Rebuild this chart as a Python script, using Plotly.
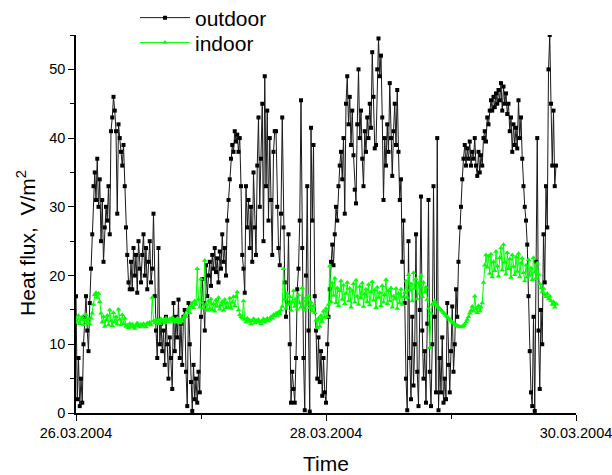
import pandas as pd
import plotly.graph_objects as go

# sampling: one reading every 0.01 day starting 26.03.2004 00:00
start_time = "2004-03-26 00:00"
step = "864s"

outdoor = [
    17, 2, 8, 1, 5, 1.5, 10, 14, 17, 12,
    9, 16, 21, 26, 33, 35, 31, 37, 30, 34,
    25, 31, 22, 27, 30, 28, 33, 26, 41, 43,
    46, 44, 41, 29, 42, 40, 38, 36, 39, 33,
    27, 23, 19, 18, 22, 18, 24, 20, 23, 17.5,
    25, 21, 19, 23, 26, 20, 24, 18, 22, 25,
    19, 21, 29, 17, 12, 8, 24, 10, 13, 9,
    12, 7, 14, 10, 5, 11, 8, 3.5, 16, 9,
    14, 11, 16.5, 8, 13, 7, 14, 15, 6, 1,
    16, 10, 4.5, 0.3, 7, 2, 5, 1.5, 6, 3,
    14, 19.5, 16, 12, 21.5, 17, 20, 22, 18.5, 23,
    21, 24, 20.5, 22.5, 19, 23.5, 21, 26, 22, 24,
    20, 28, 31, 34, 37, 39, 38, 41, 39.5, 40.5,
    38, 40, 33, 23, 21, 17.5, 33, 27, 31, 24,
    30, 22, 35, 27, 23, 36, 43, 30, 37, 45,
    25, 49, 33, 44, 28, 40, 31, 23, 38, 41,
    41, 30, 24, 21.5, 29, 43, 27, 19, 14, 16,
    26, 10, 1.5, 6, 3.5, 1.5, 8, 18, 21, 28,
    45.5, 24, 8, 0.4, 20, 33, 12, 0.2, 41.5, 28,
    39, 17, 12, 5, 11, 4.5, 9, 2.5, 8, 3,
    1.5, 10, 14, 18, 22, 24.5, 21.5, 26, 30, 28,
    33, 36, 38, 34, 40, 29, 45, 49, 42, 46,
    39, 44, 37.5, 32.5, 30.5, 42, 50, 40, 44, 37,
    33, 41, 38, 43, 40, 45, 41.5, 52.5, 46, 38.5,
    39, 50, 54.5, 49, 52, 43, 31, 40, 36, 42,
    38, 48, 40, 34.5, 41, 45, 39, 47, 38, 31,
    34, 22, 28, 16, 5, 0.4, 25, 8, 2, 14,
    4, 10, 26, 6, 1, 15, 31.5, 12, 5, 9,
    1.5, 13, 31, 6, 1, 10, 33, 14, 3, 40,
    0.4, 8, 3, 11, 1.5, 5, 2, 16, 7, 3,
    9, 15.5, 6, 10, 18, 14, 22, 27, 30, 34,
    37, 39, 36, 38.5, 37, 39.5, 36, 38, 37, 40,
    36, 34.5, 38, 35, 37.5, 36, 40, 41, 39.5, 43,
    42, 44, 45.5, 44, 46, 44.5, 46.5, 45, 47, 45.5,
    48, 44, 47.5, 45, 46.5, 43.5, 45, 41, 43, 38,
    42, 39, 41.5, 38.5, 45.5, 40, 43, 37, 33, 30,
    28, 24.5, 17, 9, 3, 1, 14, 0.3, 22, 40,
    12, 3.5, 15, 10, 26, 19, 33, 27, 50, 55,
    45, 36, 44, 33, 36,
]

indoor = [
    13.8, 13.2, 14.2, 13.0, 13.6, 14.0, 12.8, 13.5, 14.3, 13.1, 13.7, 12.9, 13.8,
    14.5, 15.8, 17.2, 17.5, 16.8, 17.4, 16.2,
    14.5, 13.2, 14.0, 12.6,
    13.5, 14.2, 12.8, 15.0, 13.4, 12.7, 14.6, 13.2, 14.0, 12.9, 15.1, 13.6, 12.8, 14.3, 13.0, 13.8, 12.6,
    12.8, 12.4, 13.0, 12.5, 12.9, 12.6, 12.3, 12.8, 13.1, 12.7,
    12.5, 12.9, 12.6, 13.0, 12.8, 12.5, 13.1, 12.9, 13.2, 12.8,
    16.8,
    13.4, 13.1, 13.6, 13.2, 13.5, 13.0, 13.7, 13.3, 13.6, 13.1,
    13.8, 13.4, 13.2, 13.7, 13.5, 13.9, 13.3, 13.6, 13.2, 13.8,
    13.4, 13.1, 13.6, 13.3,
    13.8, 14.2, 14.0, 14.8, 15.2, 14.6, 15.6, 16.0, 15.3, 16.3, 15.8,
    21.0,
    16.5, 15.4, 19.5, 16.0, 15.2,
    22.2,
    15.8, 14.9, 16.3, 15.2, 16.6, 15.0, 15.9, 14.8, 16.4, 15.5,
    16.8, 15.1, 15.7, 16.2, 14.9, 16.5, 15.3, 16.0, 15.4, 16.7,
    15.2, 16.1, 16.9, 15.6, 17.0,
    17.6,
    15.0, 14.3, 14.0, 13.8,
    16.3,
    13.6, 13.2, 13.8, 13.3, 13.5, 13.0, 13.4, 13.7, 13.1, 13.5,
    13.2, 13.6, 13.3, 13.0, 13.4, 13.7, 13.2, 13.5, 13.8, 13.4,
    13.6,
    14.0, 13.8, 14.3, 14.1, 14.5, 14.2, 14.7, 14.4, 15.0, 15.5,
    21.0,
    16.5, 15.2, 17.4, 15.8, 16.9, 14.9, 16.2, 17.8, 15.5, 16.6,
    15.1, 17.2, 16.0, 15.4, 18.2, 16.3, 15.0, 16.8, 15.7, 17.0,
    15.3, 16.1, 14.8, 15.6,
    14.6, 13.5, 12.4, 13.8, 12.6, 14.2, 13.3, 14.8, 13.9,
    15.2, 14.0, 15.8,
    21.4,
    16.2, 18.9, 17.1, 19.6, 16.0, 18.2, 15.6, 17.8, 19.2, 16.5,
    18.6, 15.9, 17.4, 19.0, 16.3, 18.1, 15.4, 17.7, 18.8, 16.1,
    19.3, 17.0, 15.8, 18.4, 16.7, 18.9, 15.5, 17.3, 18.0, 16.2,
    18.7, 15.7, 17.6, 19.1, 16.4, 17.9, 15.3, 18.3, 16.8, 17.5,
    15.6, 18.5, 16.1, 17.2, 19.4, 15.9, 17.8, 16.3, 18.2, 15.4,
    17.0, 16.6, 18.1, 15.2, 17.4, 16.0, 18.0, 15.8, 16.9,
    17.5, 19.2, 16.8, 20.1, 17.9, 18.8, 16.3, 20.4, 18.1, 19.5,
    16.6, 18.9, 17.4, 20.0, 16.9, 19.0, 17.6, 18.3,
    16.5, 15.2, 9.5, 14.5, 15.8,
    16.0, 16.3, 15.8, 15.6,
    15.4, 15.2, 15.0, 14.8, 14.6, 14.4, 14.2, 14.0, 13.8, 13.6,
    13.4, 13.2, 13.1, 12.9, 12.8, 12.7, 12.6, 12.6, 12.5, 12.6,
    12.7, 12.9, 13.2, 13.6, 14.0, 14.5, 14.9, 15.5, 14.8,
    17.0,
    15.2, 14.6, 15.6, 14.8, 15.4, 16.0,
    19.0, 21.5, 23.0,
    21.2, 22.8, 20.3, 23.1, 19.8, 22.0, 20.7, 23.5, 21.4, 19.9,
    22.6, 24.0, 20.8, 24.5, 21.9, 20.2, 23.3, 21.0, 22.4, 19.7,
    23.0, 21.3, 20.1, 22.7, 20.6, 23.2, 19.8, 21.8, 22.5,
    20.4, 19.2, 21.5, 19.8, 22.3, 20.0, 21.1, 19.4, 22.6, 20.5,
    19.6, 21.8, 20.2,
    18.8, 18.2, 17.6, 18.1, 17.2, 16.9, 17.4, 16.6, 17.0, 16.3,
    15.8, 16.2, 15.4, 15.9,
]

t_out = pd.date_range(start_time, periods=len(outdoor), freq=step)
t_in = pd.date_range(start_time, periods=len(indoor), freq=step)

x_ticks = ["2004-03-26", "2004-03-28", "2004-03-30"]
x_ticklabels = ["26.03.2004", "28.03.2004", "30.03.2004"]

FONT = "Arial, Liberation Sans, sans-serif"

fig = go.Figure()
fig.add_trace(go.Scatter(
    x=t_out, y=outdoor, name="outdoor", mode="lines+markers",
    line=dict(color="#1a1a1a", width=1),
    marker=dict(symbol="square", size=4, color="black"),
    legend="legend",
))
fig.add_trace(go.Scatter(
    x=t_in, y=indoor, name="indoor", mode="lines+markers",
    line=dict(color="#00ff00", width=1),
    marker=dict(symbol="triangle-up", size=5, color="#00ff00"),
    legend="legend2",
))

leg_common = dict(
    xanchor="left", yanchor="middle",
    bgcolor="rgba(0,0,0,0)", font=dict(size=21, family=FONT),
    itemwidth=50,
)

fig.update_layout(
    width=612, height=475,
    margin=dict(l=76, r=36, t=35, b=62, autoexpand=False),
    paper_bgcolor="white", plot_bgcolor="white",
    font=dict(family=FONT, color="black"),
    showlegend=True,
    legend=dict(x=0.118, y=1.045, **leg_common),
    legend2=dict(x=0.118, y=0.979, **leg_common),
    xaxis=dict(
        type="date", range=["2004-03-26", "2004-03-30"],
        tickvals=x_ticks, ticktext=x_ticklabels,
        ticks="outside", ticklen=6, tickwidth=1.2, tickcolor="black",
        minor=dict(dtick=86400000, ticks="outside", ticklen=4, tickcolor="black", showgrid=False),
        showline=True, linecolor="black", linewidth=1.5,
        showgrid=False, zeroline=False, automargin=False,
        ticklabeloverflow="allow",
        tickfont=dict(size=14.5, family=FONT),
        title=dict(text="Time", font=dict(size=21, family=FONT), standoff=18),
    ),
    yaxis=dict(
        range=[0, 55], dtick=10, tick0=0,
        ticks="outside", ticklen=6, tickwidth=1.2, tickcolor="black",
        minor=dict(dtick=5, ticks="outside", ticklen=4, tickcolor="black", showgrid=False),
        showline=True, linecolor="black", linewidth=1.5,
        showgrid=False, zeroline=False, automargin=False,
        tickfont=dict(size=14.5, family=FONT),
    ),
    annotations=[dict(
        text="Heat flux,\u00a0 V/m<sup>2</sup>", textangle=-90,
        xref="paper", yref="paper", x=-0.1, y=0.45,
        xanchor="center", yanchor="middle", showarrow=False,
        font=dict(size=21, family=FONT, color="black"),
    )],
)

fig.write_html("out.html")
